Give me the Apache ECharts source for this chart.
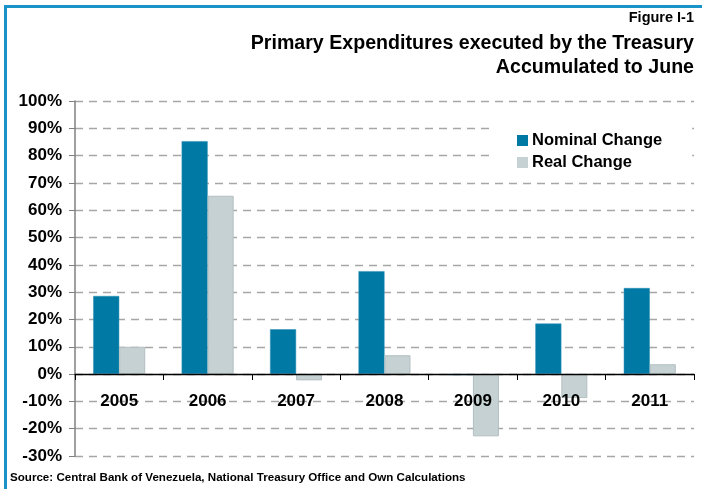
<!DOCTYPE html>
<html>
<head>
<meta charset="utf-8">
<script src="https://cdn.jsdelivr.net/npm/echarts@6/dist/echarts.min.js"></script>
<style>
  html, body { margin: 0; padding: 0; background: #fff; }
  #chart { width: 702px; height: 489px; }
</style>
</head>
<body>
<div id="chart"></div>
<script>
// years on the x axis
var years = ['2005', '2006', '2007', '2008', '2009', '2010', '2011'];
// percent change
var nominalChange = [28.6, 85.3, 16.4, 37.7, -0.4, 18.5, 31.5];
var realChange = [10.0, 65.3, -2.3, 6.9, -22.8, -8.8, 3.6];

var font = '"Liberation Sans", Arial, sans-serif';

var chart = echarts.init(document.getElementById('chart'));

chart.setOption({
    animation: false,
    backgroundColor: '#fff',
    textStyle: { fontFamily: font },
    graphic: [
        // blue frame, top and left edges only
        { type: 'rect', shape: { x: 4, y: 5, width: 698, height: 3 }, style: { fill: '#1a93c9' } },
        { type: 'rect', shape: { x: 4, y: 5, width: 3, height: 484 }, style: { fill: '#1a93c9' } },
        {
            type: 'text', right: 8, top: 10,
            style: { text: 'Figure I-1', font: 'bold 14.5px ' + font, fill: '#000' }
        },
        {
            type: 'text', right: 8, top: 34,
            style: { text: 'Primary Expenditures executed by the Treasury', font: 'bold 19.6px ' + font, fill: '#000' }
        },
        {
            type: 'text', right: 8, top: 58,
            style: { text: 'Accumulated to June', font: 'bold 19.6px ' + font, fill: '#000' }
        },
        {
            type: 'text', left: 10, top: 472,
            style: {
                text: 'Source: Central Bank of Venezuela, National Treasury Office and Own Calculations',
                font: 'bold 11.6px ' + font, fill: '#000'
            }
        }
    ],
    legend: {
        orient: 'vertical',
        left: 492,
        top: 112,
        padding: [20, 30, 8, 25],
        backgroundColor: '#fff',
        itemWidth: 11,
        itemHeight: 11,
        itemGap: 5,
        icon: 'rect',
        itemStyle: { borderWidth: 0 },
        data: ['Nominal Change', 'Real Change'],
        textStyle: { fontSize: 16.5, fontWeight: 'bold', color: '#000', fontFamily: font, padding: [0, 0, 0, -1] }
    },
    grid: {
        left: 75,
        right: 8,
        top: 101,
        bottom: 33
    },
    xAxis: {
        type: 'category',
        data: years,
        // the axis sits at 0%: shift it up from the grid bottom by 30 units
        axisLine: { onZero: false, lineStyle: { color: '#000', width: 1.3 } },
        offset: -82,
        axisTick: { show: true, length: 6, lineStyle: { color: '#000' } },
        axisLabel: {
            fontSize: 17, fontWeight: 'bold', color: '#000', margin: 19, fontFamily: font
        },
        z: 10
    },
    yAxis: {
        type: 'value',
        min: -30,
        max: 100,
        interval: 10,
        axisLine: { show: true, lineStyle: { color: '#808080', width: 1.5 } },
        axisTick: { show: true, length: 6, lineStyle: { color: '#808080' } },
        axisLabel: {
            formatter: '{value}%', fontSize: 17, fontWeight: 'bold', color: '#000',
            margin: 13, fontFamily: font
        },
        splitLine: {
            show: true,
            lineStyle: { color: '#a6a6a6', type: [8, 6], width: 1.3 }
        }
    },
    series: [
        {
            name: 'Nominal Change',
            type: 'bar',
            data: nominalChange,
            barWidth: 26,
            barGap: '0%',
            itemStyle: { color: '#0079a5', borderColor: '#2a8fb5', borderWidth: 0.5 }
        },
        {
            name: 'Real Change',
            type: 'bar',
            data: realChange,
            barWidth: 26,
            itemStyle: { color: '#c5d1d2', borderColor: '#b3bfc0', borderWidth: 1 }
        }
    ]
});

window.onresize = function () {
    chart.resize();
};
</script>
</body>
</html>
